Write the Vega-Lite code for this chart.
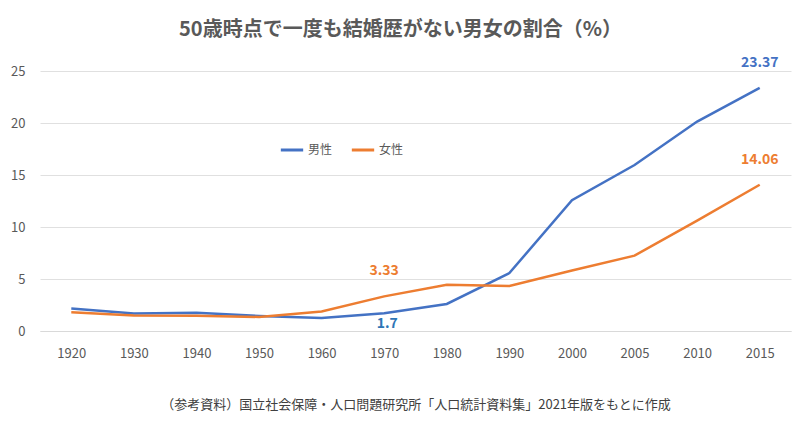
{
  "$schema": "https://vega.github.io/schema/vega-lite/v6.json",
  "width": 751,
  "height": 260,
  "autosize": {"type": "none"},
  "padding": {"left": 40, "top": 71, "right": 9, "bottom": 109},
  "background": "white",
  "config": {
    "font": "Noto Sans CJK JP",
    "view": {"stroke": null}
  },
  "title": {
    "text": "50歳時点で一度も結婚歴がない男女の割合（%）",
    "fontSize": 20,
    "fontWeight": "bold",
    "color": "#595959",
    "anchor": "middle",
    "dx": -15,
    "offset": 16
  },
  "datasets": {
    "main": [
      {"year": "1920", "series": "男性", "value": 2.17},
      {"year": "1930", "series": "男性", "value": 1.68},
      {"year": "1940", "series": "男性", "value": 1.75},
      {"year": "1950", "series": "男性", "value": 1.45},
      {"year": "1960", "series": "男性", "value": 1.26},
      {"year": "1970", "series": "男性", "value": 1.70},
      {"year": "1980", "series": "男性", "value": 2.60},
      {"year": "1990", "series": "男性", "value": 5.57},
      {"year": "2000", "series": "男性", "value": 12.57},
      {"year": "2005", "series": "男性", "value": 15.96},
      {"year": "2010", "series": "男性", "value": 20.14},
      {"year": "2015", "series": "男性", "value": 23.37},
      {"year": "1920", "series": "女性", "value": 1.80},
      {"year": "1930", "series": "女性", "value": 1.48},
      {"year": "1940", "series": "女性", "value": 1.47},
      {"year": "1950", "series": "女性", "value": 1.35},
      {"year": "1960", "series": "女性", "value": 1.88},
      {"year": "1970", "series": "女性", "value": 3.33},
      {"year": "1980", "series": "女性", "value": 4.45},
      {"year": "1990", "series": "女性", "value": 4.33},
      {"year": "2000", "series": "女性", "value": 5.82},
      {"year": "2005", "series": "女性", "value": 7.25},
      {"year": "2010", "series": "女性", "value": 10.61},
      {"year": "2015", "series": "女性", "value": 14.06}
    ],
    "above": [
      {"year": "2015", "series": "男性", "value": 23.37, "label": "23.37"},
      {"year": "2015", "series": "女性", "value": 14.06, "label": "14.06"},
      {"year": "1970", "series": "女性", "value": 3.33, "label": "3.33"}
    ],
    "below": [
      {"year": "1970", "series": "男性", "value": 1.70, "label": "1.7"}
    ]
  },
  "encoding": {
    "x": {
      "field": "year",
      "type": "ordinal",
      "sort": null,
      "scale": {"type": "point", "padding": 0.5},
      "axis": {
        "title": "（参考資料）国立社会保障・人口問題研究所「人口統計資料集」2021年版をもとに作成",
        "titleFontSize": 13,
        "titleFontWeight": "normal",
        "titleColor": "#404040",
        "titlePadding": 38,
        "labelAngle": 0,
        "labelFontSize": 13,
        "labelColor": "#595959",
        "labelPadding": 16,
        "ticks": false,
        "domainColor": "#d9d9d9",
        "grid": false
      }
    },
    "y": {
      "field": "value",
      "type": "quantitative",
      "scale": {"domain": [0, 25]},
      "axis": {
        "title": null,
        "values": [0, 5, 10, 15, 20, 25],
        "labelFontSize": 13,
        "labelColor": "#595959",
        "labelPadding": 15,
        "ticks": false,
        "domain": false,
        "gridColor": "#e0e0e0"
      }
    },
    "color": {
      "field": "series",
      "type": "nominal",
      "sort": ["男性", "女性"],
      "scale": {"domain": ["男性", "女性"], "range": ["#4472C4", "#ED7D31"]},
      "legend": {
        "title": null,
        "orient": "none",
        "direction": "horizontal",
        "legendX": 239,
        "legendY": 66,
        "symbolType": "stroke",
        "symbolStrokeWidth": 3,
        "symbolSize": 500,
        "labelFontSize": 12,
        "labelColor": "#595959",
        "columnPadding": 12,
        "labelOffset": 3
      }
    }
  },
  "layer": [
    {
      "data": {"name": "main"},
      "mark": {"type": "line", "strokeWidth": 2.5}
    },
    {
      "data": {"name": "above"},
      "mark": {"type": "text", "dy": -25, "fontSize": 14, "fontWeight": "bold"},
      "encoding": {
        "text": {"field": "label"},
        "color": {"field": "series", "type": "nominal", "scale": {"domain": ["男性", "女性"], "range": ["#2E75B6", "#ED7D31"]}, "legend": null}
      }
    },
    {
      "data": {"name": "below"},
      "mark": {"type": "text", "dy": 11, "dx": 3, "fontSize": 14, "fontWeight": "bold"},
      "encoding": {
        "text": {"field": "label"},
        "color": {"value": "#2E75B6"}
      }
    }
  ],
  "resolve": {"scale": {"color": "shared"}}
}
